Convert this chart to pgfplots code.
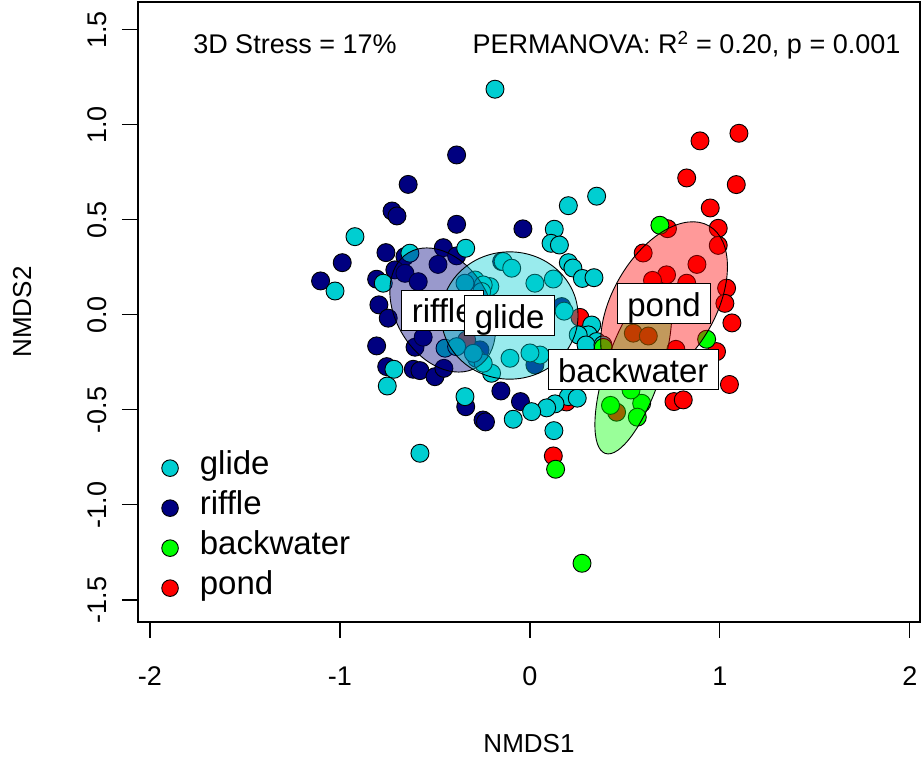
\documentclass[border=0pt]{standalone}
\usepackage{pgfplots}
\pgfplotsset{compat=1.18}
\usepackage{fontspec}
\setmainfont{Liberation Sans}
\definecolor{glidec}{HTML}{00CED1}
\definecolor{rifflec}{HTML}{000080}
\definecolor{backc}{HTML}{00FF00}
\definecolor{pondc}{HTML}{FF0000}
\begin{document}
\begin{tikzpicture}
\useasboundingbox (0,0) rectangle (922pt,757pt);
\begin{axis}[
  at={(138pt,135pt)}, anchor=south west,
  scale only axis, width=782pt, height=620pt,
  xmin=-2.063, xmax=2.053, ymin=-1.616, ymax=1.647,
  clip marker paths=true,
  axis line style={line width=1.1pt},
  xtick={-2,-1,0,1,2}, ytick={-1.5,-1,-0.5,0,0.5,1,1.5},
  tick align=outside, tick pos=left,
  major tick length=16pt, tick style={line width=1.1pt, black},
  /pgf/number format/assume math mode=true,
  xticklabel style={font=\fontsize{27}{27}\selectfont, anchor=base, inner sep=0pt, yshift=-48pt},
  yticklabel style={/pgf/number format/.cd, fixed, fixed zerofill, precision=1, /tikz/.cd,
     font=\fontsize{27}{27}\selectfont, xshift=-15pt, rotate=90, anchor=base, inner sep=0pt},
  xlabel={NMDS1}, ylabel={NMDS2},
  label style={font=\fontsize{26}{26}\selectfont, inner sep=0pt},
  xlabel style={at={(axis description cs:0.5,-0.2097)}, anchor=base},
  ylabel style={at={(axis description cs:-0.1366,0.5)}, anchor=base},
  legend cell align=left,
  legend style={at={(axis cs:-1.939,-0.70)}, anchor=north west, draw=none, fill=none,
     inner sep=0pt, row sep=0pt, column sep=21.5pt,
     font=\fontsize{33}{33}\selectfont,
     nodes={inner sep=0pt, text height=26.5pt, text depth=13.5pt}},
  legend image post style={mark size=8.3pt},
]
% data points
\addplot[only marks, mark=*, mark size=9pt, mark options={fill=rifflec, draw=black, line width=0.9pt}, forget plot] table {
x y
-0.386 0.842
-0.641 0.687
-0.726 0.547
-0.700 0.521
-0.386 0.477
-0.037 0.453
-0.988 0.275
-1.102 0.179
-0.758 0.328
-0.658 0.307
-0.456 0.354
-0.386 0.311
-0.484 0.266
-0.711 0.237
-0.658 0.219
-0.588 0.175
-0.807 0.188
-0.795 0.053
-0.746 -0.017
-0.807 -0.163
-0.605 -0.170
-0.562 -0.117
-0.754 -0.272
-0.614 -0.286
-0.579 -0.293
-0.500 -0.325
-0.453 -0.281
-0.338 -0.483
-0.247 -0.553
-0.234 -0.563
-0.153 -0.400
-0.050 -0.456
0.026 -0.263
0.167 0.044
-0.149 0.281
-0.263 -0.184
};
\addplot[only marks, mark=*, mark size=9pt, mark options={fill=pondc, draw=black, line width=0.9pt}, forget plot] table {
x y
0.895 0.916
1.100 0.956
0.825 0.721
1.086 0.686
0.949 0.563
0.724 0.454
0.991 0.456
0.991 0.366
0.596 0.326
0.879 0.266
0.719 0.211
0.645 0.182
0.825 0.167
1.035 0.141
1.026 0.061
1.063 -0.042
0.263 -0.013
0.544 -0.096
0.623 -0.111
0.982 -0.193
0.768 -0.181
1.050 -0.366
0.758 -0.456
0.807 -0.447
0.192 -0.458
0.123 -0.742
0.456 -0.512
-0.333 -0.132
};
\addplot[only marks, mark=*, mark size=9pt, mark options={fill=glidec, draw=black, line width=0.9pt}, forget plot] table {
x y
-0.184 1.188
-0.921 0.412
-1.026 0.126
-0.632 0.325
-0.338 0.351
-0.772 0.167
-0.141 0.281
-0.096 0.246
-0.716 -0.286
-0.751 -0.374
-0.342 -0.430
-0.088 -0.549
-0.579 -0.728
-0.105 -0.228
-0.202 -0.307
0.202 0.575
0.351 0.625
0.128 0.451
0.111 0.377
0.155 0.368
0.202 0.275
0.226 0.247
0.276 0.192
0.337 0.196
0.123 0.189
0.026 0.167
0.180 0.020
0.325 -0.053
0.307 -0.105
0.351 -0.140
0.254 -0.105
0.295 -0.158
0.384 -0.158
0.053 -0.211
-0.281 -0.228
-0.246 -0.254
0.202 -0.430
0.132 -0.468
0.088 -0.489
0.249 -0.438
0.009 -0.509
0.126 -0.609
-0.211 0.149
-0.289 0.184
-0.246 0.158
-0.342 0.167
-0.254 0.123
-0.447 -0.175
-0.386 -0.167
-0.298 -0.202
0.000 -0.200
};
\addplot[only marks, mark=*, mark size=9pt, mark options={fill=backc, draw=black, line width=0.9pt}, forget plot] table {
x y
0.684 0.472
0.930 -0.128
0.386 -0.171
0.424 -0.476
0.588 -0.465
0.565 -0.538
0.532 -0.395
0.135 -0.812
0.274 -1.307
};
% dispersion ellipses
\draw[black, line width=0.9pt, fill=rifflec, fill opacity=0.4, rotate around={121:(axis cs:-0.459,0.026)}] (axis cs:-0.459,0.026) ellipse [x radius=0.351, y radius=0.247];
\draw[black, line width=0.9pt, fill=glidec, fill opacity=0.4] (axis cs:-0.107,-0.003) ellipse [x radius=0.36, y radius=0.335];
\draw[black, line width=0.9pt, fill=backc, fill opacity=0.4, rotate around={71.5:(axis cs:0.544,-0.289)}] (axis cs:0.544,-0.289) ellipse [x radius=0.464, y radius=0.146];
\draw[black, line width=0.9pt, fill=pondc, fill opacity=0.4, rotate around={60:(axis cs:0.706,0.058)}] (axis cs:0.706,0.058) ellipse [x radius=0.474, y radius=0.271];
% group labels
\tikzset{grplab/.style={draw=black, fill=white, line width=0.9pt, font=\fontsize{33}{33}\selectfont, inner xsep=10pt, inner ysep=0pt, text height=33pt, text depth=7pt}}
\node[grplab] at (axis cs:-0.459,0.026) {riffle};
\node[grplab] at (axis cs:-0.107,-0.003) {glide};
\node[grplab] at (axis cs:0.706,0.058) {pond};
\node[grplab] at (axis cs:0.544,-0.289) {backwater};
% annotations
\node[anchor=base, font=\fontsize{27}{27}\selectfont] at (axis cs:-1.237,1.375) {3D Stress = 17\%};
\node[anchor=base, font=\fontsize{27}{27}\selectfont] at (axis cs:0.824,1.375) {PERMANOVA: R\textsuperscript{2} = 0.20, p = 0.001};
% legend
\addlegendimage{only marks, mark=*, mark options={fill=glidec, draw=black, line width=0.9pt}}
\addlegendentry{glide}
\addlegendimage{only marks, mark=*, mark options={fill=rifflec, draw=black, line width=0.9pt}}
\addlegendentry{riffle}
\addlegendimage{only marks, mark=*, mark options={fill=backc, draw=black, line width=0.9pt}}
\addlegendentry{backwater}
\addlegendimage{only marks, mark=*, mark options={fill=pondc, draw=black, line width=0.9pt}}
\addlegendentry{pond}
\end{axis}
\end{tikzpicture}
\end{document}
